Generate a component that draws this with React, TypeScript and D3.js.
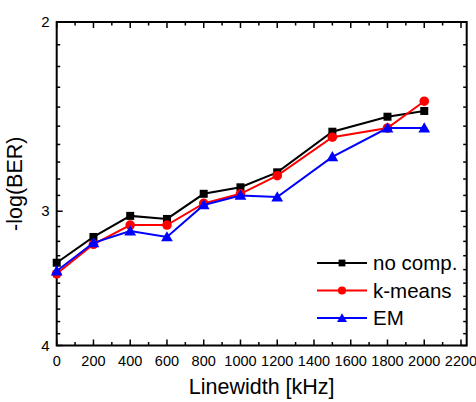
import React from 'react';
import * as d3 from 'd3';

const xValues = [0, 200, 400, 600, 800, 1000, 1200, 1500, 1800, 2000];
const noComp = [3.35, 3.17, 3.03, 3.05, 2.89, 2.85, 2.76, 2.53, 2.45, 2.42];
const kMeans = [3.43, 3.22, 3.09, 3.09, 2.95, 2.89, 2.78, 2.56, 2.51, 2.37];
const em = [3.41, 3.21, 3.13, 3.17, 2.96, 2.9, 2.91, 2.67, 2.51, 2.51];
const xTicks = [0, 200, 400, 600, 800, 1000, 1200, 1400, 1600, 1800, 2000, 2200];
const yTicks = [2, 3, 4];

const series = [
  { name: 'no comp.', values: noComp, color: '#000000', marker: 'square' },
  { name: 'k-means', values: kMeans, color: '#ff0000', marker: 'circle' },
  { name: 'EM', values: em, color: '#0000ff', marker: 'triangle' },
];

const W = 476;
const H = 402;
const left = 56.7;
const right = 466.7;
const top = 22;
const bottom = 345.5;
const font = 'Arial, "Liberation Sans", sans-serif';

const Marker = ({ type, x, y, color, s = 1 }) => {
  if (type === 'square') {
    const a = 8 * s;
    return <rect x={x - a / 2} y={y - a / 2} width={a} height={a} fill={color} />;
  }
  if (type === 'circle') return <circle cx={x} cy={y} r={4.8 * s} fill={color} />;
  const sym = d3.symbol().type(d3.symbolTriangle).size(60 * s * s)();
  return <path d={sym} transform={`translate(${x},${y + 1})`} fill={color} />;
};

const App = () => {
  const x = d3.scaleLinear().domain([0, 2231]).range([left, right]);
  const y = d3.scaleLog().domain([2, 4]).range([top, bottom]);

  const line = d3
    .line<number>()
    .x((d, i) => x(xValues[i]))
    .y(d => y(d));

  const xMinor = d3.range(100, 2201, 200);
  const yMinor = d3.range(2.1, 3.95, 0.1).filter(v => Math.abs(v - 3) > 0.01);

  return (
    <svg width={W} height={H} style={{ position: 'absolute', left: 0, top: 0, background: '#fff' }}>
      {/* ticks, all pointing in */}
      <g stroke="#000" strokeWidth={1.5}>
        {xTicks.map(t => (
          <g key={'xt' + t}>
            <line x1={x(t)} x2={x(t)} y1={bottom} y2={bottom - 6} />
            <line x1={x(t)} x2={x(t)} y1={top} y2={top + 6} />
          </g>
        ))}
        {xMinor.map(t => (
          <g key={'xm' + t}>
            <line x1={x(t)} x2={x(t)} y1={bottom} y2={bottom - 3.5} />
            <line x1={x(t)} x2={x(t)} y1={top} y2={top + 3.5} />
          </g>
        ))}
        {yTicks.map(t => (
          <g key={'yt' + t}>
            <line x1={left} x2={left + 6} y1={y(t)} y2={y(t)} />
            <line x1={right} x2={right - 6} y1={y(t)} y2={y(t)} />
          </g>
        ))}
        {yMinor.map(t => (
          <g key={'ym' + t.toFixed(1)}>
            <line x1={left} x2={left + 3.5} y1={y(t)} y2={y(t)} />
            <line x1={right} x2={right - 3.5} y1={y(t)} y2={y(t)} />
          </g>
        ))}
      </g>
      <rect x={left} y={top} width={right - left} height={bottom - top} fill="none" stroke="#000" strokeWidth={2} />

      {xTicks.map(t => (
        <text key={'xl' + t} x={x(t)} y={bottom + 20} textAnchor="middle" fontFamily={font} fontSize={14.5}>
          {t}
        </text>
      ))}
      {yTicks.map(t => (
        <text key={'yl' + t} x={left - 7} y={y(t) + 5} textAnchor="end" fontFamily={font} fontSize={15}>
          {t}
        </text>
      ))}

      <text x={(left + right) / 2} y={394} textAnchor="middle" fontFamily={font} fontSize={21.5}>
        Linewidth [kHz]
      </text>
      <text
        transform={`translate(22,${(top + bottom) / 2}) rotate(-90)`}
        textAnchor="middle"
        fontFamily={font}
        fontSize={21.5}
      >
        -log(BER)
      </text>

      {series.map(s => (
        <g key={s.name}>
          <path d={line(s.values)} fill="none" stroke={s.color} strokeWidth={2} />
          {s.values.map((v, i) => (
            <Marker key={i} type={s.marker} x={x(xValues[i])} y={y(v)} color={s.color} />
          ))}
        </g>
      ))}

      {series.map((s, i) => {
        const ly = 263 + i * 27.5;
        return (
          <g key={'lg' + s.name}>
            <line x1={317} x2={367} y1={ly} y2={ly} stroke={s.color} strokeWidth={2} />
            <Marker type={s.marker} x={342} y={ly} color={s.color} s={0.85} />
            <text x={373} y={ly + 7} fontFamily={font} fontSize={20.5}>
              {s.name}
            </text>
          </g>
        );
      })}
    </svg>
  );
};

export default App;
